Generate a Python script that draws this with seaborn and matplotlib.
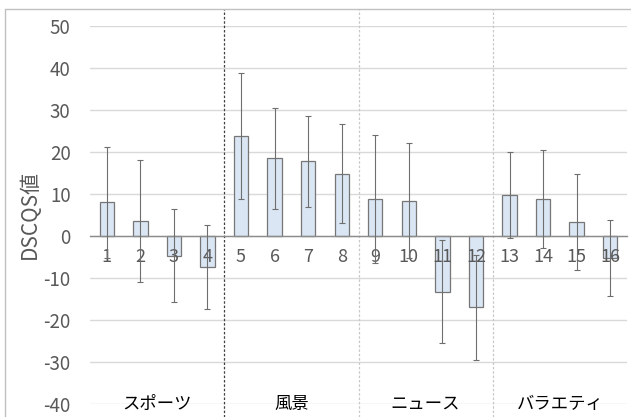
import numpy as np
import pandas as pd
import seaborn as sns
import matplotlib.pyplot as plt
from matplotlib.lines import Line2D

# values
clips = [str(i) for i in range(1, 17)]
dscqs = [8.0, 3.6, -4.7, -7.4, 23.8, 18.5, 17.7, 14.8,
         8.8, 8.4, -13.3, -17.0, 9.7, 8.8, 3.3, -5.2]
sd = [13.2, 14.5, 11.0, 10.1, 15.0, 12.0, 10.9, 11.8,
      15.3, 13.6, 12.2, 12.5, 10.2, 11.7, 11.4, 9.0]
genres = ['スポーツ', '風景', 'ニュース', 'バラエティ']

df = pd.DataFrame({'clip': clips, 'dscqs': dscqs, 'sd': sd})

sns.set_style('white')
plt.rcParams['font.family'] = ['Noto Sans CJK JP', 'DejaVu Sans']
plt.rcParams['axes.unicode_minus'] = False

fig = plt.figure(figsize=(6.31, 4.17), dpi=100)
ax = fig.add_axes([90 / 631, 13 / 417, 537 / 631, 378.3 / 417])

sns.barplot(data=df, x='clip', y='dscqs', order=clips, color='#DAE6F4',
            saturation=1, edgecolor='#767676', linewidth=0.9, width=0.43,
            errorbar=None, ax=ax, zorder=2)
ax.errorbar(np.arange(len(clips)), df['dscqs'], yerr=df['sd'], fmt='none',
            ecolor='#6E6E6E', elinewidth=0.8, capsize=2, capthick=0.8, zorder=5)

ax.set_ylim(-40, 50)
ax.set_xlim(-0.5, 15.5)
ax.set_yticks(range(-40, 51, 10))
ax.yaxis.grid(True, color='#D9D9D9', linewidth=1)
ax.set_axisbelow(True)
ax.xaxis.set_zorder(4)
for s in ['top', 'right', 'left']:
    ax.spines[s].set_visible(False)
ax.spines['bottom'].set_position(('data', 0))
ax.spines['bottom'].set_color('#8C8C8C')
ax.spines['bottom'].set_linewidth(1)
ax.spines['bottom'].set_zorder(2.5)
ax.tick_params(axis='x', length=0, pad=9, labelsize=13, labelcolor='#595959')
ax.tick_params(axis='y', length=0, pad=14, labelsize=13.5, labelcolor='#595959')
ax.set_xlabel('')
ax.set_ylabel('DSCQS値', fontsize=15, color='#595959', labelpad=2)

# genre separators
sep_style = [('#404040', 0.9), ('#C8C8C8', 0.9), ('#C8C8C8', 0.9)]
for k, (c, lw) in enumerate(sep_style):
    ax.axvline(3.5 + 4 * k, ymin=-0.034, ymax=1.044, color=c, lw=lw,
               linestyle=(0, (2, 1.5)), clip_on=False, zorder=1)

for k, g in enumerate(genres):
    ax.text(1.5 + 4 * k, -40, g, ha='center', va='center', fontsize=12.5,
            color='black')

# outer chart frame
fig.add_artist(Line2D([5 / 631, 1], [1 - 9 / 417] * 2, color='#C0C0C0', lw=1))
fig.add_artist(Line2D([5 / 631] * 2, [0, 1 - 9 / 417], color='#C0C0C0', lw=1))

fig.savefig('out.png', dpi=100)
